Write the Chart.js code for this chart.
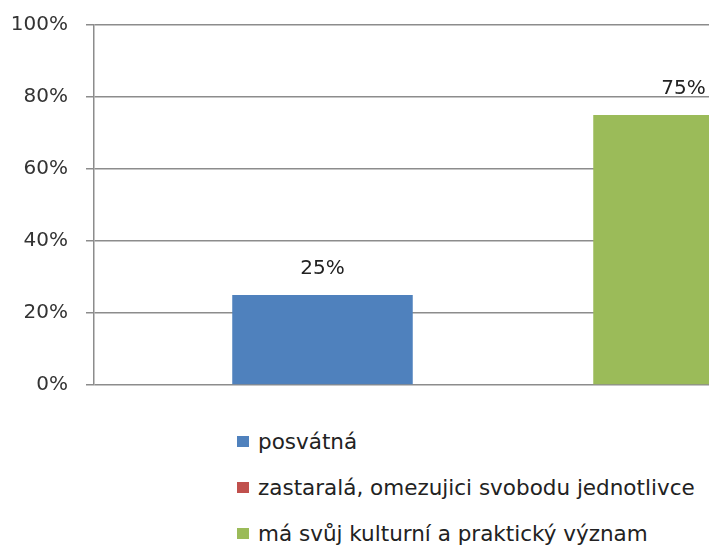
<!DOCTYPE html>
<html>
<head>
<meta charset="utf-8">
<script src="https://cdn.jsdelivr.net/npm/chart.js@4.4.0/dist/chart.umd.min.js"></script>
<style>
  html, body { margin: 0; padding: 0; background: #fff; overflow: hidden; }
  body { width: 709px; height: 546px; position: relative; font-family: "DejaVu Sans", sans-serif; }
  #wrap { position: absolute; left: 0; top: -5px; width: 920px; height: 420px; }
  #legend { position: absolute; left: 237px; top: 429px; margin: 0; padding: 0; list-style: none; }
  #legend li { height: 46px; font-size: 21.5px; color: #222; white-space: nowrap; display: flex; align-items: flex-start; }
  #legend .box { display: inline-block; width: 12px; height: 11px; margin: 7px 9px 0 0; }
</style>
</head>
<body>
<div id="wrap"><canvas id="chart"></canvas></div>
<ul id="legend"></ul>
<script>
// Series names and values (percent)
const seriesNames = ["posvátná", "zastaralá, omezujici svobodu jednotlivce", "má svůj kulturní a praktický význam"];
const seriesValues = [25, 0, 75];
const seriesColors = ["#4F81BD", "#C0504D", "#9BBB59"];
const categories = [""];

const gridColor = "#8c8c8c";

// Value labels above bars (skip zeros)
const valueLabels = {
    id: "valueLabels",
    afterDatasetsDraw(chart) {
        const ctx = chart.ctx;
        ctx.save();
        ctx.font = "20px 'DejaVu Sans'";
        ctx.fillStyle = "#222";
        ctx.textAlign = "center";
        ctx.textBaseline = "middle";
        chart.data.datasets.forEach((ds, i) => {
            chart.getDatasetMeta(i).data.forEach((bar, j) => {
                const v = ds.data[j];
                if (v > 0) ctx.fillText(v + "%", bar.x, bar.y - 26);
            });
        });
        ctx.restore();
    }
};

new Chart(document.getElementById("chart"), {
    type: "bar",
    data: {
        labels: categories,
        datasets: seriesNames.map((name, i) => ({
            label: name,
            data: [seriesValues[i]],
            backgroundColor: seriesColors[i],
            categoryPercentage: 0.662,
            barPercentage: 1
        }))
    },
    plugins: [valueLabels],
    options: {
        responsive: true,
        maintainAspectRatio: false,
        animation: false,
        layout: { padding: { top: 20, bottom: 1, left: 0, right: 8 } },
        plugins: {
            legend: { display: false },
            tooltip: { enabled: false }
        },
        scales: {
            x: { display: false },
            y: {
                min: 0,
                max: 100,
                afterFit: (scale) => { scale.width = 94; },
                ticks: {
                    stepSize: 20,
                    padding: 18,
                    color: "#333",
                    font: { family: "DejaVu Sans", size: 20 },
                    callback: (v) => v + "%"
                },
                grid: { color: gridColor, lineWidth: 1.5, tickLength: 8 },
                border: { color: gridColor, width: 1.5 }
            }
        }
    }
});

// Legend built from the series arrays
const legend = document.getElementById("legend");
seriesNames.forEach((name, i) => {
    const li = document.createElement("li");
    const box = document.createElement("span");
    box.className = "box";
    box.style.background = seriesColors[i];
    li.appendChild(box);
    li.appendChild(document.createTextNode(name));
    legend.appendChild(li);
});
</script>
</body>
</html>
